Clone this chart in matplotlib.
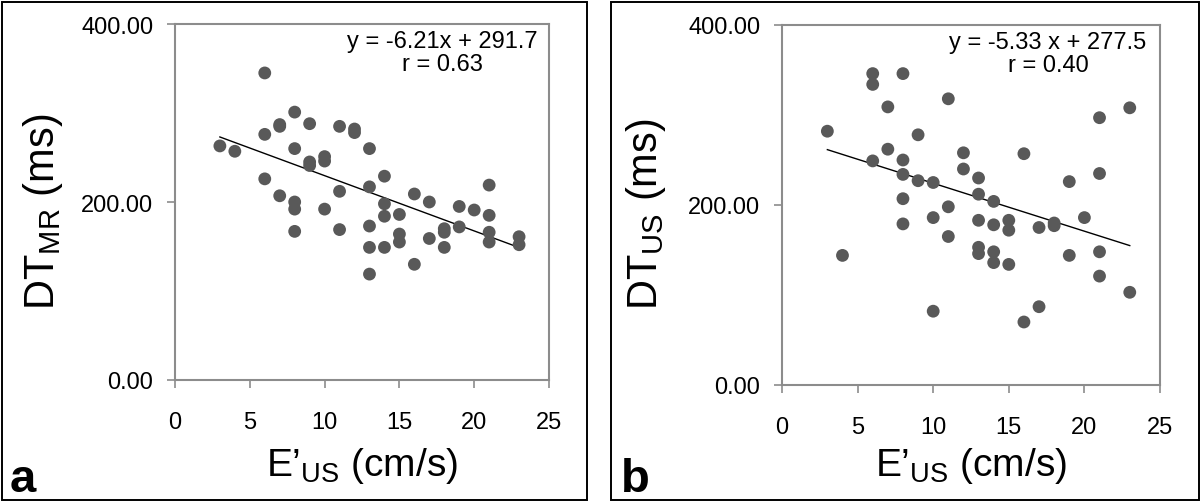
import matplotlib
matplotlib.use("Agg")
import matplotlib.pyplot as plt
from matplotlib.patches import Rectangle
import numpy as np

plt.rcParams['font.family'] = ['Liberation Sans', 'DejaVu Sans']
plt.rcParams['mathtext.fontset'] = 'custom'
plt.rcParams['mathtext.rm'] = 'Liberation Sans'

# Panel a: E'US vs DT_MR
a_x = [3, 4, 6, 6, 6, 7, 7, 7, 8, 8, 8, 8, 8, 9, 9, 9, 10, 10, 10, 11, 11, 11,
       12, 12, 13, 13, 13, 13, 13, 14, 14, 14, 14, 15, 15, 15, 16, 16, 17, 17,
       18, 18, 18, 19, 19, 20, 21, 21, 21, 21, 23, 23]
a_y = [263, 257, 345, 276, 226, 287, 285, 207, 301, 260, 200, 192, 167, 288, 245, 241,
       251, 246, 192, 285, 212, 169, 282, 278, 260, 217, 173, 149, 119, 229, 198,
       184, 149, 186, 164, 155, 209, 130, 200, 159, 170, 166, 149, 195, 172, 191,
       219, 185, 166, 155, 161, 152]
a_slope, a_icpt = -6.21, 291.7
a_eq = "y = -6.21x + 291.7\nr = 0.63"

# Panel b: E'US vs DT_US
b_x = [3, 4, 6, 6, 6, 7, 7, 8, 8, 8, 8, 8, 9, 9, 10, 10, 10, 11, 11, 11, 12, 12,
       13, 13, 13, 13, 13, 14, 14, 14, 14, 15, 15, 15, 16, 16, 17, 17, 18, 18,
       19, 19, 20, 21, 21, 21, 21, 23, 23]
b_y = [282, 144, 346, 334, 249, 309, 262, 346, 250, 234, 207, 179, 278, 227, 225,
       186, 82, 318, 198, 165, 258, 240, 230, 212, 183, 153, 146, 204, 178, 148,
       136, 183, 172, 134, 257, 70, 175, 87, 180, 177, 226, 144, 186, 297, 235,
       148, 121, 308, 103]
b_slope, b_icpt = -5.33, 277.5
b_eq = "y = -5.33 x + 277.5\nr = 0.40"

x_ticks = [0, 5, 10, 15, 20, 25]
y_ticks = [0, 200, 400]

W, H = 1200, 502
fig = plt.figure(figsize=(W / 100, H / 100), dpi=100)

def px(x0, y0, x1, y1):
    return [x0 / W, 1 - y1 / H, (x1 - x0) / W, (y1 - y0) / H]

spine_c = '#8c8c8c'
dot_c = '#595959'

def panel(rect, xs, ys, slope, icpt, eq, eqx):
    ax = fig.add_axes(rect)
    ax.scatter(xs, ys, s=85, color=dot_c, edgecolors='none', zorder=3)
    lx = np.array([min(xs), max(xs)])
    ax.plot(lx, slope * lx + icpt, color='black', lw=1.0, zorder=2)
    ax.set_xlim(0, 25)
    ax.set_ylim(0, 400)
    ax.set_xticks(x_ticks)
    ax.set_yticks(y_ticks)
    ax.set_yticklabels([f"{v:.2f}" for v in y_ticks])
    for s in ax.spines.values():
        s.set_color(spine_c)
        s.set_linewidth(1.5)
    ax.tick_params(direction='out', length=6, width=1.2, color=spine_c,
                   labelsize=17, labelcolor='black')
    ax.tick_params(axis='y', pad=9.5)
    ax.tick_params(axis='x', pad=16)
    ax.text(eqx, 393, eq, ha='center', va='top', fontsize=17, linespacing=1.05)
    return ax

panel(px(175, 25, 549, 381), a_x, a_y, a_slope, a_icpt, a_eq, 17.85)
panel(px(782, 26, 1160, 386), b_x, b_y, b_slope, b_icpt, b_eq, 17.6)

# panel frames
fig.patches.append(Rectangle((1.5 / W, 1.5 / H), (587 - 1.5) / W, (499 - 1.5) / H,
                             transform=fig.transFigure, fill=False, ec='black', lw=1.4))
fig.patches.append(Rectangle((611 / W, 1.5 / H), (1198.5 - 611) / W, (499 - 1.5) / H,
                             transform=fig.transFigure, fill=False, ec='black', lw=1.4))

fig.text(43 / W, 1 - 212 / H, r"DT$_{\mathregular{MR}}$ (ms)", rotation=90,
         ha='center', va='center', fontsize=30)
fig.text(646 / W, 1 - 214 / H, r"DT$_{\mathregular{US}}$ (ms)", rotation=90,
         ha='center', va='center', fontsize=30)
fig.text(362 / W, 1 - 466 / H, r"E’$_{\mathregular{US}}$ (cm/s)",
         ha='center', va='center', fontsize=28)
fig.text(971 / W, 1 - 466 / H, r"E’$_{\mathregular{US}}$ (cm/s)",
         ha='center', va='center', fontsize=28)

fig.text(10 / W, 1 - 492 / H, "a", ha='left', va='baseline', fontsize=34, fontweight='bold')
fig.text(621 / W, 1 - 492 / H, "b", ha='left', va='baseline', fontsize=34, fontweight='bold')

fig.savefig("out.png", dpi=100)
